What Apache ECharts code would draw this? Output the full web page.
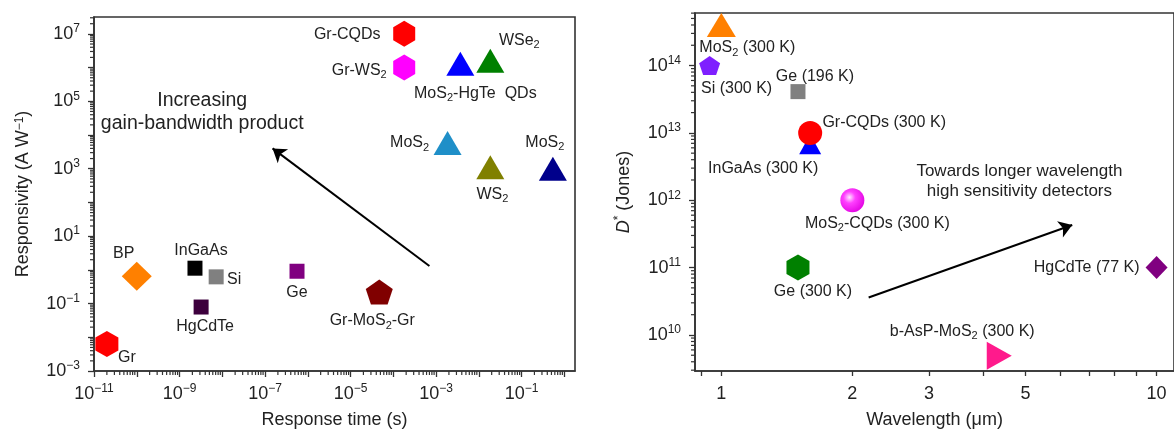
<!DOCTYPE html>
<html><head><meta charset="utf-8">
<script src="https://cdn.jsdelivr.net/npm/echarts@6/dist/echarts.min.js"></script>
<style>html,body{margin:0;padding:0;background:#fff}#c{width:1174px;height:434px}</style>
</head><body><div id="c"></div><script>
// ---------------- Panel A: responsivity vs response time ----------------
const aLabels = ['Gr-CQDs', 'Gr-WS{s|2}', 'MoS{s|2}-HgTe  QDs', 'WSe{s|2}', 'MoS{s|2}', 'WS{s|2}', 'MoS{s|2}',
  'BP', 'InGaAs', 'Si', 'HgCdTe', 'Gr', 'Ge', 'Gr-MoS{s|2}-Gr'];
const aTime = [1.8e-4, 1.8e-4, 3.7e-3, 1.86e-2, 1.86e-3, 1.86e-2, 0.54,
  1e-10, 2.3e-9, 7.2e-9, 3.2e-9, 2e-11, 5.6e-7, 4.7e-5];          // s
const aResp = [1e7, 1e6, 1.3e6, 1.6e6, 5.8e3, 1.1e3, 1e3,
  0.65, 1.12, 0.62, 0.079, 0.0063, 0.91, 0.22];                      // A/W
const aArrowTime = [7e-4, 1.5e-7];
const aArrowResp = [1.3, 4e3];
const aNoteTime = [3.4e-9];
const aNoteResp = [4.9e4];
const aNote = 'Increasing\ngain-bandwidth product';
const aXTickExp = [-11, -9, -7, -5, -3, -1];
const aYTickExp = [-3, -1, 1, 3, 5, 7];

// ---------------- Panel B: detectivity vs wavelength ----------------
const bLabels = ['MoS{s|2} (300 K)', 'Si (300 K)', 'Ge (196 K)', 'InGaAs (300 K)', 'Gr-CQDs (300 K)',
  'MoS{s|2}-CQDs (300 K)', 'Ge (300 K)', 'b-AsP-MoS{s|2} (300 K)', 'HgCdTe (77 K)'];
const bWave = [1.0, 0.94, 1.5, 1.6, 1.6, 2.0, 1.5, 4.35, 10];        // um
const bDet = [4e14, 1e14, 4.1e13, 6.8e12, 1e13, 1e12, 1e11, 4.9e9, 1e11]; // Jones
const bArrowWave = [2.18, 6.4];
const bArrowDet = [3.6e10, 4.3e11];
const bNoteWave = [4.84];
const bNoteDet = [1.94e12];
const bNote = 'Towards longer wavelength\nhigh sensitivity detectors';
const bXTicks = [0.9, 1, 2, 3, 4, 5, 6, 7, 8, 9, 10];
const bXLabels = [1, 2, 3, 5, 10];
const bYTickExp = [10, 11, 12, 13, 14];

// ---------------- styles ----------------
const FONT = "'Liberation Sans', Arial, Helvetica, sans-serif";
const TXT = '#222222';
const AX = '#333333';
const HEX = 'path://M0,-1L0.866,-0.5L0.866,0.5L0,1L-0.866,0.5L-0.866,-0.5Z';
const PENT = 'path://M0,-1L0.951,-0.309L0.588,0.809L-0.588,0.809L-0.951,-0.309Z';

const aStyle = [
  {sym: HEX, size: [22, 26], color: '#ff0000', off: [-57, 1]},
  {sym: HEX, size: [22, 26], color: '#ff00ff', off: [-45, 3]},
  {sym: 'triangle', size: [28, 24], color: '#0000ff', off: [15, 30]},
  {sym: 'triangle', size: [28, 24], color: '#008000', off: [29, -20]},
  {sym: 'triangle', size: [28, 24], color: '#1f8fc8', off: [-38, 0]},
  {sym: 'triangle', size: [28, 24], color: '#808000', off: [2, 27]},
  {sym: 'triangle', size: [28, 24], color: '#00008b', off: [-8, -26]},
  {sym: 'diamond', size: [30, 29], color: '#ff8000', off: [-13, -23]},
  {sym: 'rect', size: 15, color: '#000000', off: [6, -18]},
  {sym: 'rect', size: 15, color: '#808080', off: [18, 3]},
  {sym: 'rect', size: 15, color: '#3d003d', off: [4, 20]},
  {sym: HEX, size: [23, 26], color: '#ff0000', off: [20, 14]},
  {sym: 'rect', size: 15, color: '#800080', off: [0, 21]},
  {sym: PENT, size: [27, 25], color: '#800000', off: [-7, 29]}
];
const sphere = {type: 'radial', x: 0.38, y: 0.38, r: 0.7,
  colorStops: [{offset: 0, color: '#ffe6ff'}, {offset: 0.35, color: '#ff40ff'}, {offset: 1, color: '#e000e0'}]};
const bStyle = [
  {sym: 'triangle', size: [29, 24], color: '#ff8000', off: [26, 23]},
  {sym: PENT, size: [21, 19], color: '#7f1fff', off: [27, 23]},
  {sym: 'rect', size: 15, color: '#808080', off: [17, -15]},
  {sym: 'triangle', size: [22, 20], color: '#0000ff', off: [-47, 24]},
  {sym: 'circle', size: 24, color: '#ff0000', off: [74, -10]},
  {sym: 'circle', size: 24, color: sphere, off: [25, 23]},
  {sym: HEX, size: [23, 26], color: '#008000', off: [15, 24]},
  {sym: 'triangle', size: [28, 25], color: '#ff1a8c', off: [-37, -24], rot: -90},
  {sym: 'diamond', size: [22, 23], color: '#800080', off: [-70, 0]}
];

const lg = Math.log10;
const labelRich = {s: {fontSize: 11, lineHeight: 11, verticalAlign: 'bottom', fontFamily: FONT, color: TXT}};
const tickRich = {
  a: {fontSize: 18, lineHeight: 22, fontFamily: FONT, color: TXT},
  p: {fontSize: 12, lineHeight: 12, verticalAlign: 'top', fontFamily: FONT, color: TXT}
};
const nameRich = {
  p: {fontSize: 12, lineHeight: 12, verticalAlign: 'top', fontFamily: FONT, color: TXT},
  i: {fontSize: 18, lineHeight: 22, fontStyle: 'italic', fontFamily: FONT, color: TXT}
};
function pow10Label(v) {
  const e = Math.round(v);
  return '{a|10}{p|' + (e < 0 ? '\u2212' + (-e) : e) + '}';
}
function minorLog(lo, hi) {
  const out = [];
  for (let n = Math.floor(lo); n <= Math.ceil(hi); n++) {
    for (let k = 2; k <= 9; k++) {
      const v = n + lg(k);
      if (v >= lo && v <= hi) out.push(v);
    }
  }
  return out;
}
function decades(lo, hi) {
  const out = [];
  for (let n = Math.ceil(lo); n <= Math.floor(hi); n++) out.push(n);
  return out;
}
function points(labels, xs, ys, styles) {
  return labels.map((lab, i) => ({
    value: [lg(xs[i]), lg(ys[i])],
    symbol: styles[i].sym,
    symbolSize: styles[i].size,
    symbolRotate: styles[i].rot || 0,
    itemStyle: {color: styles[i].color, opacity: 1},
    label: {show: true, position: 'inside', offset: styles[i].off, formatter: lab,
      fontSize: 16, lineHeight: 20, color: TXT, opacity: 1, fontFamily: FONT, rich: labelRich}
  }));
}

const A = {xmin: -11, xmax: 0.25, ymin: -3, ymax: 7.5};
const B = {xmin: lg(0.87), xmax: 1.04, ymin: 9.465, ymax: 14.78};
const MINOR_LEN = 4;

// minor (log 2..9) ticks drawn through the axis scales
function minorTickSeries(xi, yi, dir, vals, other) {
  return {
    type: 'custom', xAxisIndex: xi, yAxisIndex: yi, clip: false, z: 4,
    data: vals.map(v => dir === 'x' ? [v, other] : [other, v]),
    renderItem: function (params, api) {
      const cs = params.coordSys;
      const p = api.coord([api.value(0), api.value(1)]);
      let shape;
      if (dir === 'x') {
        const y0 = cs.y + cs.height;
        shape = {x1: p[0], y1: y0, x2: p[0], y2: y0 + MINOR_LEN};
      } else {
        const x0 = cs.x;
        shape = {x1: x0 - MINOR_LEN, y1: p[1], x2: x0, y2: p[1]};
      }
      return {type: 'line', shape: shape, style: {stroke: AX, lineWidth: 1.2}};
    }
  };
}

function mainAxis(o) {
  return Object.assign({
    type: 'value', scale: false,
    axisLine: {show: true, onZero: false, lineStyle: {color: AX, width: 1.6}},
    splitLine: {show: false},
    nameTextStyle: {fontSize: 18, color: TXT, fontFamily: FONT, rich: nameRich}
  }, o);
}

const option = {
  backgroundColor: '#ffffff',
  animation: false,
  grid: [
    {left: 94, top: 17, width: 481, height: 354, show: true, borderColor: AX, borderWidth: 1.6},
    {left: 695, top: 13, width: 487.5, height: 358, show: true, borderColor: AX, borderWidth: 1.6}
  ],
  xAxis: [
    mainAxis({gridIndex: 0, position: 'bottom', min: A.xmin, max: A.xmax,
      name: 'Response time (s)', nameLocation: 'middle', nameGap: 40,
      axisLabel: {customValues: aXTickExp, formatter: pow10Label, margin: 12, rich: tickRich},
      axisTick: {show: true, inside: false, length: 6, lineStyle: {color: AX, width: 1.3}, customValues: decades(A.xmin, A.xmax)}}),
    mainAxis({gridIndex: 1, position: 'bottom', min: B.xmin, max: B.xmax,
      name: 'Wavelength (\u03bcm)', nameLocation: 'middle', nameGap: 40,
      axisLabel: {customValues: bXLabels.map(lg), formatter: v => String(Math.round(Math.pow(10, v))),
        margin: 14, fontSize: 18, color: TXT, fontFamily: FONT},
      axisTick: {show: true, inside: false, length: 5, lineStyle: {color: AX, width: 1.3}, customValues: bXTicks.map(lg)}})
  ],
  yAxis: [
    mainAxis({gridIndex: 0, position: 'left', min: A.ymin, max: A.ymax,
      name: 'Responsivity (A W{p|\u22121})', nameLocation: 'middle', nameGap: 62, nameRotate: 90,
      axisLabel: {customValues: aYTickExp, formatter: pow10Label, margin: 14, rich: tickRich},
      axisTick: {show: true, inside: false, length: 6, lineStyle: {color: AX, width: 1.3}, customValues: decades(A.ymin, A.ymax)}}),
    mainAxis({gridIndex: 1, position: 'left', min: B.ymin, max: B.ymax,
      name: '{i|D}{p|*} (Jones)', nameLocation: 'middle', nameGap: 60, nameRotate: 90,
      axisLabel: {customValues: bYTickExp, formatter: pow10Label, margin: 14, rich: tickRich},
      axisTick: {show: true, inside: false, length: 6, lineStyle: {color: AX, width: 1.3}, customValues: bYTickExp}})
  ],
  series: [
    minorTickSeries(0, 0, 'x', minorLog(A.xmin, A.xmax), A.ymin),
    minorTickSeries(0, 0, 'y', minorLog(A.ymin, A.ymax), A.xmin),
    minorTickSeries(1, 1, 'y', minorLog(B.ymin, B.ymax), B.xmin),
    {type: 'lines', coordinateSystem: 'cartesian2d', xAxisIndex: 0, yAxisIndex: 0, z: 2,
      symbol: ['none', 'arrow'], symbolSize: [0, 13],
      lineStyle: {color: '#000', width: 2, opacity: 1},
      data: [{coords: [[lg(aArrowTime[0]), lg(aArrowResp[0])], [lg(aArrowTime[1]), lg(aArrowResp[1])]]}]},
    {type: 'lines', coordinateSystem: 'cartesian2d', xAxisIndex: 1, yAxisIndex: 1, z: 2,
      symbol: ['none', 'arrow'], symbolSize: [0, 13],
      lineStyle: {color: '#000', width: 2, opacity: 1},
      data: [{coords: [[lg(bArrowWave[0]), lg(bArrowDet[0])], [lg(bArrowWave[1]), lg(bArrowDet[1])]]}]},
    {type: 'scatter', xAxisIndex: 0, yAxisIndex: 0, clip: false, z: 3,
      data: points(aLabels, aTime, aResp, aStyle)},
    {type: 'scatter', xAxisIndex: 1, yAxisIndex: 1, clip: false, z: 3,
      data: points(bLabels, bWave, bDet, bStyle)},
    {type: 'scatter', xAxisIndex: 0, yAxisIndex: 0, symbolSize: 1, itemStyle: {color: 'rgba(0,0,0,0)', opacity: 1},
      label: {show: true, position: 'inside', formatter: aNote, fontSize: 19.5, lineHeight: 23,
        align: 'center', color: TXT, opacity: 1, fontFamily: FONT},
      data: aNoteTime.map((t, i) => [lg(t), lg(aNoteResp[i])])},
    {type: 'scatter', xAxisIndex: 1, yAxisIndex: 1, symbolSize: 1, itemStyle: {color: 'rgba(0,0,0,0)', opacity: 1},
      label: {show: true, position: 'inside', formatter: bNote, fontSize: 17, lineHeight: 20,
        align: 'center', color: TXT, opacity: 1, fontFamily: FONT},
      data: bNoteWave.map((w, i) => [lg(w), lg(bNoteDet[i])])}
  ]
};
const chart = echarts.init(document.getElementById('c'));
chart.setOption(option);
</script></body></html>
